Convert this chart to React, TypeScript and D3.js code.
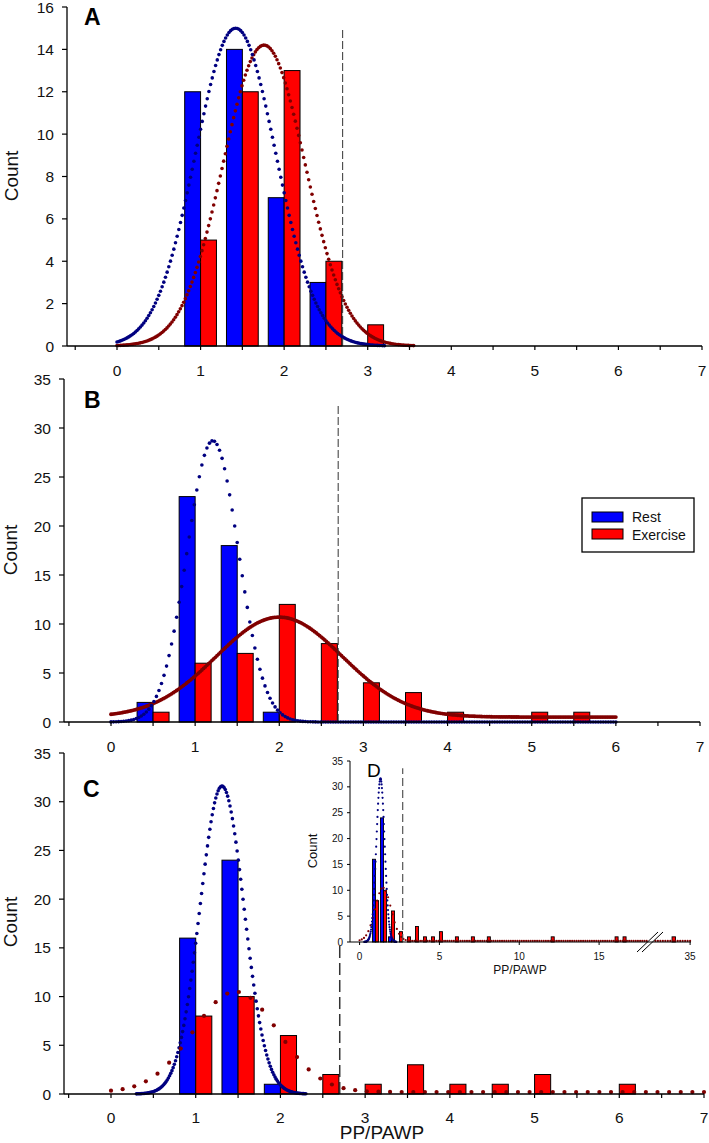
import React from "react";
import * as d3 from "d3";

const W = 709;
const H = 1143;
const FONT = "'Liberation Sans', Arial, Helvetica, sans-serif";

// ---------- data ----------
const xTickLabels = [0, 1, 2, 3, 4, 5, 6, 7];

// Panel A
const binsA = [1.0, 1.5, 2.0, 2.5, 3.0];
const restA = [12, 14, 7, 3, 0];
const exerciseA = [5, 12, 13, 4, 1];

// Panel B
const binsB = [0.5, 1.0, 1.5, 2.0, 2.5, 3.0, 3.5, 4.0, 5.0, 5.5];
const restB = [2, 23, 18, 1, 0, 0, 0, 0, 0, 0];
const exerciseB = [1, 6, 7, 12, 8, 4, 3, 1, 1, 1];

// Panel C
const binsC = [1.0, 1.5, 2.0, 2.5, 3.0, 3.5, 4.0, 4.5, 5.0, 6.0];
const restC = [16, 24, 1, 0, 0, 0, 0, 0, 0, 0];
const exerciseC = [8, 10, 6, 2, 1, 3, 1, 1, 2, 1];

// Panel D (inset, full range with axis break)
const binsD = [1.0, 1.5, 2.0, 2.5, 3.0, 3.5, 4.0, 4.5, 5.0, 6.0, 7.0, 8.0, 12.0, 16.0, 16.5, 34.0];
const restD = [16, 24, 1, 0, 0, 0, 0, 0, 0, 0, 0, 0, 0, 0, 0, 0];
const exerciseD = [8, 10, 6, 2, 1, 3, 1, 1, 2, 1, 1, 1, 1, 1, 1, 1];
const insetXTickLabels = [0, 5, 10, 15, 35];

// Normal-fit curves (parameters: centre, spread, peak height, baseline, x span)
const fitRestA = { mean: 1.42, sd: 0.48, peak: 15.0, base: 0, from: 0, to: 3.2 };
const fitExerciseA = { mean: 1.76, sd: 0.49, peak: 14.2, base: 0, from: 0, to: 3.55 };
const fitRestB = { mean: 1.21, sd: 0.306, peak: 28.7, base: 0, from: 0, to: 6 };
const fitExerciseB = { mean: 2.0, sd: 0.75, peak: 10.7, base: 0.5, from: 0, to: 6 };
const fitRestC = { mean: 1.31, sd: 0.26, peak: 31.6, base: 0, from: 0.3, to: 2.3 };
const fitExerciseC = { mean: 1.47, sd: 0.5, peak: 10.5, base: 0.2, from: 0, to: 7 };
const fitExerciseD = { mean: 1.47, sd: 0.5, peak: 10.5, base: 0.2, from: 0, to: 35 };

const cutoff = 2.7;

// ---------- colours ----------
const REST = "#0000ff";
const EXER = "#ff0000";
const REST_FIT = "#000080";
const EXER_FIT = "#800000";

type Fit = { mean: number; sd: number; peak: number; base: number; from: number; to: number };

function fitPoints(f: Fit, step: number) {
  const n = Math.round((f.to - f.from) / step);
  return d3.range(n + 1).map((i) => {
    const x = f.from + ((f.to - f.from) * i) / n;
    const y = f.base + (f.peak - f.base) * Math.exp(-((x - f.mean) ** 2) / (2 * f.sd * f.sd));
    return [x, y];
  });
}

type CurveSpec = { fit: Fit; step: number; color: string; r: number };

type PanelProps = {
  x0: number;
  x7: number;
  yAxisX: number;
  yTop: number;
  yBottom: number;
  yMax: number;
  yStep: number;
  bins: number[];
  rest: number[];
  exercise: number[];
  curves: CurveSpec[];
  dashTop: number;
  dashArray: string;
  dashWidth: number;
  letter: string;
  letterX: number;
  letterY: number;
  countX: number;
  countY: number;
  labelY: number;
};

const BAR_W = 0.19;

function Panel(p: PanelProps) {
  const sx = d3.scaleLinear().domain([0, 7]).range([p.x0, p.x7]);
  const sy = d3.scaleLinear().domain([0, p.yMax]).range([p.yBottom, p.yTop]);
  const yTicks = d3.range(0, p.yMax + 0.001, p.yStep);
  const xMinor = d3.range(-0.5, 7.001, 0.5);
  return (
    <g>
      {/* bars */}
      {p.bins.map((c, i) => (
        <g key={"b" + i}>
          {p.rest[i] > 0 && (
            <rect
              x={sx(c - BAR_W)}
              y={sy(p.rest[i])}
              width={sx(c) - sx(c - BAR_W)}
              height={sy(0) - sy(p.rest[i])}
              fill={REST}
              stroke="#000"
              strokeWidth={1}
            />
          )}
          {p.exercise[i] > 0 && (
            <rect
              x={sx(c)}
              y={sy(p.exercise[i])}
              width={sx(c + BAR_W) - sx(c)}
              height={sy(0) - sy(p.exercise[i])}
              fill={EXER}
              stroke="#000"
              strokeWidth={1}
            />
          )}
        </g>
      ))}
      {/* fitted curves */}
      {p.curves.map((cv, k) => (
        <g key={"c" + k} fill={cv.color}>
          {fitPoints(cv.fit, cv.step).map(([x, y], j) => (
            <circle key={j} cx={sx(x)} cy={sy(y)} r={cv.r} />
          ))}
        </g>
      ))}
      {/* cutoff dashed line */}
      <line
        x1={sx(cutoff)}
        x2={sx(cutoff)}
        y1={sy(0)}
        y2={sy(p.dashTop)}
        stroke="#333"
        strokeWidth={p.dashWidth}
        strokeDasharray={p.dashArray}
      />
      {/* axes */}
      <line x1={p.yAxisX} x2={p.yAxisX} y1={p.yTop} y2={p.yBottom} stroke="#000" strokeWidth={1.3} />
      <line x1={p.yAxisX} x2={sx(7)} y1={p.yBottom} y2={p.yBottom} stroke="#000" strokeWidth={1.3} />
      {yTicks.map((t) => (
        <g key={"yt" + t}>
          <line x1={p.yAxisX - 5} x2={p.yAxisX} y1={sy(t)} y2={sy(t)} stroke="#000" strokeWidth={1.2} />
          <text
            x={p.yAxisX - 13}
            y={sy(t)}
            dy="0.36em"
            textAnchor="end"
            fontSize={15.5}
            fontFamily={FONT}
            fill="#111"
          >
            {t}
          </text>
        </g>
      ))}
      {xMinor.map((t) => (
        <line key={"xt" + t} x1={sx(t)} x2={sx(t)} y1={p.yBottom} y2={p.yBottom + 4} stroke="#000" strokeWidth={1.2} />
      ))}
      {xTickLabels.map((t) => (
        <text key={"xl" + t} x={sx(t)} y={p.labelY} textAnchor="middle" fontSize={15.5} fontFamily={FONT} fill="#111">
          {t}
        </text>
      ))}
      <text
        transform={`translate(${p.countX},${p.countY}) rotate(-90)`}
        textAnchor="middle"
        fontSize={19}
        fontFamily={FONT}
        fill="#111"
      >
        Count
      </text>
      <text x={p.letterX} y={p.letterY} fontSize={23} fontWeight="bold" fontFamily={FONT} fill="#000">
        {p.letter}
      </text>
    </g>
  );
}

function Inset() {
  const sx = d3.scaleLinear().domain([-0.6, 18, 33, 35.05]).range([350, 647, 654, 691]);
  const sy = d3.scaleLinear().domain([0, 35]).range([942, 761]);
  const yTicks = d3.range(0, 35.001, 5);
  const visible = (x: number) => x <= 18 || x >= 33;
  const bw = 0.19;
  return (
    <g>
      {binsD.map((c, i) => (
        <g key={"ib" + i}>
          {restD[i] > 0 && (
            <rect
              x={sx(c - bw)}
              y={sy(restD[i])}
              width={sx(c) - sx(c - bw)}
              height={sy(0) - sy(restD[i])}
              fill={REST}
              stroke="#000"
              strokeWidth={0.9}
            />
          )}
          {exerciseD[i] > 0 && (
            <rect
              x={sx(c)}
              y={sy(exerciseD[i])}
              width={sx(c + bw) - sx(c)}
              height={sy(0) - sy(exerciseD[i])}
              fill={EXER}
              stroke="#000"
              strokeWidth={0.9}
            />
          )}
        </g>
      ))}
      <g fill={EXER_FIT}>
        {fitPoints(fitExerciseD, 7 / 51)
          .filter(([x]) => visible(x))
          .map(([x, y], j) => (
            <circle key={j} cx={sx(x)} cy={sy(y)} r={1.1} />
          ))}
      </g>
      <g fill={REST_FIT}>
        {fitPoints(fitRestC, 0.02).map(([x, y], j) => (
          <circle key={j} cx={sx(x)} cy={sy(y)} r={1.1} />
        ))}
      </g>
      <line
        x1={sx(cutoff)}
        x2={sx(cutoff)}
        y1={sy(0)}
        y2={sy(33.6)}
        stroke="#555"
        strokeWidth={1.2}
        strokeDasharray="8,4"
      />
      <line x1={350} x2={350} y1={761} y2={942} stroke="#000" strokeWidth={1} />
      <line x1={350} x2={691} y1={942} y2={942} stroke="#000" strokeWidth={1} />
      {/* axis break marks */}
      <line x1={637} y1={952} x2={658} y2={932} stroke="#000" strokeWidth={1} />
      <line x1={642} y1={952} x2={663} y2={932} stroke="#000" strokeWidth={1} />
      {yTicks.map((t) => (
        <g key={"iyt" + t}>
          <line x1={347} x2={350} y1={sy(t)} y2={sy(t)} stroke="#000" strokeWidth={1} />
          <text x={343} y={sy(t)} dy="0.36em" textAnchor="end" fontSize={10} fontFamily={FONT} fill="#111">
            {t}
          </text>
        </g>
      ))}
      {insetXTickLabels.map((t) => (
        <g key={"ixt" + t}>
          <line x1={sx(t)} x2={sx(t)} y1={942} y2={945} stroke="#000" strokeWidth={1} />
          <text x={sx(t)} y={960} textAnchor="middle" fontSize={10} fontFamily={FONT} fill="#111">
            {t}
          </text>
        </g>
      ))}
      <text x={520} y={974} textAnchor="middle" fontSize={12} fontFamily={FONT} fill="#111">
        PP/PAWP
      </text>
      <text
        transform="translate(317,851) rotate(-90)"
        textAnchor="middle"
        fontSize={13}
        fontFamily={FONT}
        fill="#111"
      >
        Count
      </text>
      <text x={367} y={777} fontSize={19} fontFamily={FONT} fill="#000">
        D
      </text>
    </g>
  );
}

export default function App() {
  return (
    <svg
      width={W}
      height={H}
      viewBox={`0 0 ${W} ${H}`}
      style={{ position: "absolute", left: 0, top: 0, background: "#fff" }}
    >
      <rect x={0} y={0} width={W} height={H} fill="#fff" />
      <Panel
        x0={117}
        x7={702}
        yAxisX={67}
        yTop={7}
        yBottom={346}
        yMax={16}
        yStep={2}
        bins={binsA}
        rest={restA}
        exercise={exerciseA}
        curves={[
          { fit: fitExerciseA, step: 0.02, color: EXER_FIT, r: 1.8 },
          { fit: fitRestA, step: 0.02, color: REST_FIT, r: 1.8 },
        ]}
        dashTop={15}
        dashArray="8,3"
        dashWidth={1}
        letter="A"
        letterX={84}
        letterY={25}
        countX={18}
        countY={176}
        labelY={376}
      />
      <Panel
        x0={111}
        x7={700}
        yAxisX={64}
        yTop={379}
        yBottom={722}
        yMax={35}
        yStep={5}
        bins={binsB}
        rest={restB}
        exercise={exerciseB}
        curves={[
          { fit: fitExerciseB, step: 0.02, color: EXER_FIT, r: 1.9 },
          { fit: fitRestB, step: 0.03, color: REST_FIT, r: 1.8 },
        ]}
        dashTop={32.3}
        dashArray="8,3"
        dashWidth={1}
        letter="B"
        letterX={84}
        letterY={408}
        countX={17}
        countY={550}
        labelY={752}
      />
      <Panel
        x0={111}
        x7={704}
        yAxisX={64}
        yTop={753}
        yBottom={1094}
        yMax={35}
        yStep={5}
        bins={binsC}
        rest={restC}
        exercise={exerciseC}
        curves={[
          { fit: fitRestC, step: 0.014, color: REST_FIT, r: 1.8 },
          { fit: fitExerciseC, step: 7 / 51, color: EXER_FIT, r: 2.1 },
        ]}
        dashTop={15.2}
        dashArray="12,5"
        dashWidth={1.5}
        letter="C"
        letterX={83}
        letterY={797}
        countX={17}
        countY={922}
        labelY={1123}
      />
      {/* legend */}
      <g>
        <rect x={582} y={498} width={112} height={54} fill="#fff" stroke="#000" strokeWidth={1.3} />
        <rect x={592} y={512} width={31} height={10} fill={REST} stroke="#000" strokeWidth={1} />
        <rect x={592} y={529} width={31} height={10} fill={EXER} stroke="#000" strokeWidth={1} />
        <text x={632} y={522} fontSize={14} fontFamily={FONT} fill="#111">
          Rest
        </text>
        <text x={632} y={540} fontSize={14} fontFamily={FONT} fill="#111">
          Exercise
        </text>
      </g>
      <Inset />
      <text x={382} y={1139} textAnchor="middle" fontSize={19} fontFamily={FONT} fill="#111">
        PP/PAWP
      </text>
    </svg>
  );
}
